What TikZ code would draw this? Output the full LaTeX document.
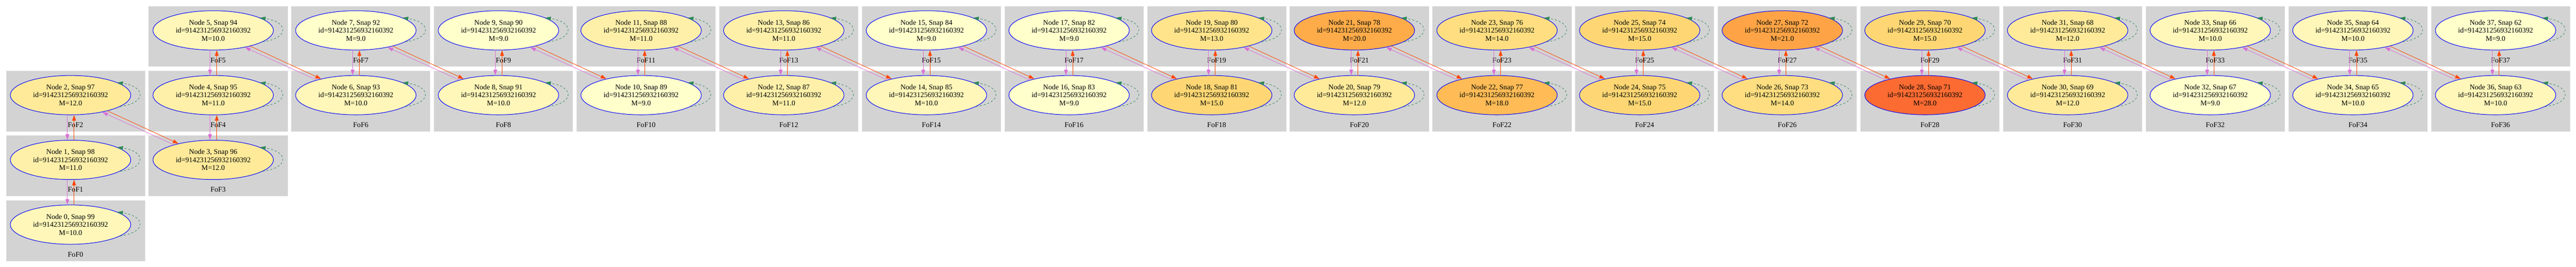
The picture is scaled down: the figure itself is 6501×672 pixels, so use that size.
\documentclass[tikz,border=0pt]{standalone}
\usepackage{fontspec}
\setmainfont{Liberation Serif}
\usetikzlibrary{shapes.geometric,arrows.meta}

\definecolor{boxgray}{HTML}{D3D3D3}
\definecolor{boxedge}{HTML}{DDDDDD}
\definecolor{fofpink}{HTML}{DA70D6}
\definecolor{fofred}{HTML}{FF4500}
\definecolor{loopgreen}{HTML}{2E8B57}
\definecolor{mass9}{HTML}{FFFFCC}
\definecolor{mass10}{HTML}{FFF7B9}
\definecolor{mass11}{HTML}{FFF0A9}
\definecolor{mass12}{HTML}{FFEA9A}
\definecolor{mass13}{HTML}{FFE48C}
\definecolor{mass14}{HTML}{FEDE80}
\definecolor{mass15}{HTML}{FED774}
\definecolor{mass18}{HTML}{FEBB56}
\definecolor{mass20}{HTML}{FEAB49}
\definecolor{mass21}{HTML}{FEA446}
\definecolor{mass28}{HTML}{FC6B32}

\begin{document}
\begin{tikzpicture}[x=1pt,y=-1pt,
    fofbox/.style ={rectangle, fill=boxgray, draw=boxedge, line width=1pt, inner sep=0pt,
                    minimum width=350pt, text height=142pt, text depth=10pt,
                    font=\fontsize{18.3}{20}\selectfont},
    halo/.style ={ellipse, draw=blue, line width=1.3pt, inner sep=0pt,
                  minimum width=304pt, minimum height=99pt, align=center,
                  font=\fontsize{18.3}{20}\selectfont},
    descend/.style ={fofpink, line width=1.1pt, -{Triangle[length=14pt,width=9.5pt]}},
    progen/.style ={fofred, line width=1.1pt, -{Triangle[length=14pt,width=9.5pt]}},
    selfloop/.style ={loopgreen, line width=1.1pt, dash pattern=on 5pt off 5pt,
                      -{Triangle[length=14pt,width=9.5pt]}}]
   \fill[white] (0,0) rectangle (6501,672);
   \useasboundingbox (0,0) rectangle (6501,672);

   % clusters
   \node[fofbox] (b0)  at (190.5,580.5)  {FoF0};
   \node[fofbox] (b1)  at (190.5,417.5)  {FoF1};
   \node[fofbox] (b2)  at (190.5,254.5)  {FoF2};
   \node[fofbox] (b3)  at (550.5,417.5)  {FoF3};
   \node[fofbox] (b4)  at (550.5,254.5)  {FoF4};
   \node[fofbox] (b5)  at (550.5,91.5)   {FoF5};
   \node[fofbox] (b6)  at (910.5,254.5)  {FoF6};
   \node[fofbox] (b7)  at (910.5,91.5)   {FoF7};
   \node[fofbox] (b8)  at (1270.5,254.5) {FoF8};
   \node[fofbox] (b9)  at (1270.5,91.5)  {FoF9};
   \node[fofbox] (b10) at (1630.5,254.5) {FoF10};
   \node[fofbox] (b11) at (1630.5,91.5)  {FoF11};
   \node[fofbox] (b12) at (1990.5,254.5) {FoF12};
   \node[fofbox] (b13) at (1990.5,91.5)  {FoF13};
   \node[fofbox] (b14) at (2350.5,254.5) {FoF14};
   \node[fofbox] (b15) at (2350.5,91.5)  {FoF15};
   \node[fofbox] (b16) at (2710.5,254.5) {FoF16};
   \node[fofbox] (b17) at (2710.5,91.5)  {FoF17};
   \node[fofbox] (b18) at (3070.5,254.5) {FoF18};
   \node[fofbox] (b19) at (3070.5,91.5)  {FoF19};
   \node[fofbox] (b20) at (3430.5,254.5) {FoF20};
   \node[fofbox] (b21) at (3430.5,91.5)  {FoF21};
   \node[fofbox] (b22) at (3790.5,254.5) {FoF22};
   \node[fofbox] (b23) at (3790.5,91.5)  {FoF23};
   \node[fofbox] (b24) at (4150.5,254.5) {FoF24};
   \node[fofbox] (b25) at (4150.5,91.5)  {FoF25};
   \node[fofbox] (b26) at (4510.5,254.5) {FoF26};
   \node[fofbox] (b27) at (4510.5,91.5)  {FoF27};
   \node[fofbox] (b28) at (4870.5,254.5) {FoF28};
   \node[fofbox] (b29) at (4870.5,91.5)  {FoF29};
   \node[fofbox] (b30) at (5230.5,254.5) {FoF30};
   \node[fofbox] (b31) at (5230.5,91.5)  {FoF31};
   \node[fofbox] (b32) at (5590.5,254.5) {FoF32};
   \node[fofbox] (b33) at (5590.5,91.5)  {FoF33};
   \node[fofbox] (b34) at (5950.5,254.5) {FoF34};
   \node[fofbox] (b35) at (5950.5,91.5)  {FoF35};
   \node[fofbox] (b36) at (6310.5,254.5) {FoF36};
   \node[fofbox] (b37) at (6310.5,91.5)  {FoF37};

   % halos
   \node[halo,fill=mass10] (n0)  at (178,565.5)  {Node 0, Snap 99\\id=914231256932160392\\M=10.0};
   \node[halo,fill=mass11] (n1)  at (178,402.5)  {Node 1, Snap 98\\id=914231256932160392\\M=11.0};
   \node[halo,fill=mass12] (n2)  at (178,239.5)  {Node 2, Snap 97\\id=914231256932160392\\M=12.0};
   \node[halo,fill=mass12] (n3)  at (538,402.5)  {Node 3, Snap 96\\id=914231256932160392\\M=12.0};
   \node[halo,fill=mass11] (n4)  at (538,239.5)  {Node 4, Snap 95\\id=914231256932160392\\M=11.0};
   \node[halo,fill=mass10] (n5)  at (538,76.5)   {Node 5, Snap 94\\id=914231256932160392\\M=10.0};
   \node[halo,fill=mass10] (n6)  at (898,239.5)  {Node 6, Snap 93\\id=914231256932160392\\M=10.0};
   \node[halo,fill=mass9]  (n7)  at (898,76.5)   {Node 7, Snap 92\\id=914231256932160392\\M=9.0};
   \node[halo,fill=mass10] (n8)  at (1258,239.5) {Node 8, Snap 91\\id=914231256932160392\\M=10.0};
   \node[halo,fill=mass9]  (n9)  at (1258,76.5)  {Node 9, Snap 90\\id=914231256932160392\\M=9.0};
   \node[halo,fill=mass9]  (n10) at (1618,239.5) {Node 10, Snap 89\\id=914231256932160392\\M=9.0};
   \node[halo,fill=mass11] (n11) at (1618,76.5)  {Node 11, Snap 88\\id=914231256932160392\\M=11.0};
   \node[halo,fill=mass11] (n12) at (1978,239.5) {Node 12, Snap 87\\id=914231256932160392\\M=11.0};
   \node[halo,fill=mass11] (n13) at (1978,76.5)  {Node 13, Snap 86\\id=914231256932160392\\M=11.0};
   \node[halo,fill=mass10] (n14) at (2338,239.5) {Node 14, Snap 85\\id=914231256932160392\\M=10.0};
   \node[halo,fill=mass9]  (n15) at (2338,76.5)  {Node 15, Snap 84\\id=914231256932160392\\M=9.0};
   \node[halo,fill=mass9]  (n16) at (2698,239.5) {Node 16, Snap 83\\id=914231256932160392\\M=9.0};
   \node[halo,fill=mass9]  (n17) at (2698,76.5)  {Node 17, Snap 82\\id=914231256932160392\\M=9.0};
   \node[halo,fill=mass15] (n18) at (3058,239.5) {Node 18, Snap 81\\id=914231256932160392\\M=15.0};
   \node[halo,fill=mass13] (n19) at (3058,76.5)  {Node 19, Snap 80\\id=914231256932160392\\M=13.0};
   \node[halo,fill=mass12] (n20) at (3418,239.5) {Node 20, Snap 79\\id=914231256932160392\\M=12.0};
   \node[halo,fill=mass20] (n21) at (3418,76.5)  {Node 21, Snap 78\\id=914231256932160392\\M=20.0};
   \node[halo,fill=mass18] (n22) at (3778,239.5) {Node 22, Snap 77\\id=914231256932160392\\M=18.0};
   \node[halo,fill=mass14] (n23) at (3778,76.5)  {Node 23, Snap 76\\id=914231256932160392\\M=14.0};
   \node[halo,fill=mass15] (n24) at (4138,239.5) {Node 24, Snap 75\\id=914231256932160392\\M=15.0};
   \node[halo,fill=mass15] (n25) at (4138,76.5)  {Node 25, Snap 74\\id=914231256932160392\\M=15.0};
   \node[halo,fill=mass14] (n26) at (4498,239.5) {Node 26, Snap 73\\id=914231256932160392\\M=14.0};
   \node[halo,fill=mass21] (n27) at (4498,76.5)  {Node 27, Snap 72\\id=914231256932160392\\M=21.0};
   \node[halo,fill=mass28] (n28) at (4858,239.5) {Node 28, Snap 71\\id=914231256932160392\\M=28.0};
   \node[halo,fill=mass15] (n29) at (4858,76.5)  {Node 29, Snap 70\\id=914231256932160392\\M=15.0};
   \node[halo,fill=mass12] (n30) at (5218,239.5) {Node 30, Snap 69\\id=914231256932160392\\M=12.0};
   \node[halo,fill=mass12] (n31) at (5218,76.5)  {Node 31, Snap 68\\id=914231256932160392\\M=12.0};
   \node[halo,fill=mass9]  (n32) at (5578,239.5) {Node 32, Snap 67\\id=914231256932160392\\M=9.0};
   \node[halo,fill=mass10] (n33) at (5578,76.5)  {Node 33, Snap 66\\id=914231256932160392\\M=10.0};
   \node[halo,fill=mass10] (n34) at (5938,239.5) {Node 34, Snap 65\\id=914231256932160392\\M=10.0};
   \node[halo,fill=mass10] (n35) at (5938,76.5)  {Node 35, Snap 64\\id=914231256932160392\\M=10.0};
   \node[halo,fill=mass10] (n36) at (6298,239.5) {Node 36, Snap 63\\id=914231256932160392\\M=10.0};
   \node[halo,fill=mass9]  (n37) at (6298,76.5)  {Node 37, Snap 62\\id=914231256932160392\\M=9.0};

   % vertical links
   \draw[descend] ([xshift=-8pt]n1.south) -- ([xshift=-8pt]n0.north);
   \draw[progen] ([xshift=9pt]n0.north) -- ([xshift=9pt]n1.south);
   \draw[descend] ([xshift=-8pt]n2.south) -- ([xshift=-8pt]n1.north);
   \draw[progen] ([xshift=9pt]n1.north) -- ([xshift=9pt]n2.south);
   \draw[descend] ([xshift=-8pt]n4.south) -- ([xshift=-8pt]n3.north);
   \draw[progen] ([xshift=9pt]n3.north) -- ([xshift=9pt]n4.south);
   \draw[descend] ([xshift=-8pt]n5.south) -- ([xshift=-8pt]n4.north);
   \draw[progen] ([xshift=9pt]n4.north) -- ([xshift=9pt]n5.south);
   \draw[descend] ([xshift=-8pt]n7.south) -- ([xshift=-8pt]n6.north);
   \draw[progen] ([xshift=9pt]n6.north) -- ([xshift=9pt]n7.south);
   \draw[descend] ([xshift=-8pt]n9.south) -- ([xshift=-8pt]n8.north);
   \draw[progen] ([xshift=9pt]n8.north) -- ([xshift=9pt]n9.south);
   \draw[descend] ([xshift=-8pt]n11.south) -- ([xshift=-8pt]n10.north);
   \draw[progen] ([xshift=9pt]n10.north) -- ([xshift=9pt]n11.south);
   \draw[descend] ([xshift=-8pt]n13.south) -- ([xshift=-8pt]n12.north);
   \draw[progen] ([xshift=9pt]n12.north) -- ([xshift=9pt]n13.south);
   \draw[descend] ([xshift=-8pt]n15.south) -- ([xshift=-8pt]n14.north);
   \draw[progen] ([xshift=9pt]n14.north) -- ([xshift=9pt]n15.south);
   \draw[descend] ([xshift=-8pt]n17.south) -- ([xshift=-8pt]n16.north);
   \draw[progen] ([xshift=9pt]n16.north) -- ([xshift=9pt]n17.south);
   \draw[descend] ([xshift=-8pt]n19.south) -- ([xshift=-8pt]n18.north);
   \draw[progen] ([xshift=9pt]n18.north) -- ([xshift=9pt]n19.south);
   \draw[descend] ([xshift=-8pt]n21.south) -- ([xshift=-8pt]n20.north);
   \draw[progen] ([xshift=9pt]n20.north) -- ([xshift=9pt]n21.south);
   \draw[descend] ([xshift=-8pt]n23.south) -- ([xshift=-8pt]n22.north);
   \draw[progen] ([xshift=9pt]n22.north) -- ([xshift=9pt]n23.south);
   \draw[descend] ([xshift=-8pt]n25.south) -- ([xshift=-8pt]n24.north);
   \draw[progen] ([xshift=9pt]n24.north) -- ([xshift=9pt]n25.south);
   \draw[descend] ([xshift=-8pt]n27.south) -- ([xshift=-8pt]n26.north);
   \draw[progen] ([xshift=9pt]n26.north) -- ([xshift=9pt]n27.south);
   \draw[descend] ([xshift=-8pt]n29.south) -- ([xshift=-8pt]n28.north);
   \draw[progen] ([xshift=9pt]n28.north) -- ([xshift=9pt]n29.south);
   \draw[descend] ([xshift=-8pt]n31.south) -- ([xshift=-8pt]n30.north);
   \draw[progen] ([xshift=9pt]n30.north) -- ([xshift=9pt]n31.south);
   \draw[descend] ([xshift=-8pt]n33.south) -- ([xshift=-8pt]n32.north);
   \draw[progen] ([xshift=9pt]n32.north) -- ([xshift=9pt]n33.south);
   \draw[descend] ([xshift=-8pt]n35.south) -- ([xshift=-8pt]n34.north);
   \draw[progen] ([xshift=9pt]n34.north) -- ([xshift=9pt]n35.south);
   \draw[descend] ([xshift=-8pt]n37.south) -- ([xshift=-8pt]n36.north);
   \draw[progen] ([xshift=9pt]n36.north) -- ([xshift=9pt]n37.south);

   % diagonal links
   \draw[progen] (n2.-23.5) -- (n3.155);
   \draw[descend] (n3.159.5) -- (n2.-28.5);
   \draw[progen] (n5.-23.5) -- (n6.155);
   \draw[descend] (n6.159.5) -- (n5.-28.5);
   \draw[progen] (n7.-23.5) -- (n8.155);
   \draw[descend] (n8.159.5) -- (n7.-28.5);
   \draw[progen] (n9.-23.5) -- (n10.155);
   \draw[descend] (n10.159.5) -- (n9.-28.5);
   \draw[progen] (n11.-23.5) -- (n12.155);
   \draw[descend] (n12.159.5) -- (n11.-28.5);
   \draw[progen] (n13.-23.5) -- (n14.155);
   \draw[descend] (n14.159.5) -- (n13.-28.5);
   \draw[progen] (n15.-23.5) -- (n16.155);
   \draw[descend] (n16.159.5) -- (n15.-28.5);
   \draw[progen] (n17.-23.5) -- (n18.155);
   \draw[descend] (n18.159.5) -- (n17.-28.5);
   \draw[progen] (n19.-23.5) -- (n20.155);
   \draw[descend] (n20.159.5) -- (n19.-28.5);
   \draw[progen] (n21.-23.5) -- (n22.155);
   \draw[descend] (n22.159.5) -- (n21.-28.5);
   \draw[progen] (n23.-23.5) -- (n24.155);
   \draw[descend] (n24.159.5) -- (n23.-28.5);
   \draw[progen] (n25.-23.5) -- (n26.155);
   \draw[descend] (n26.159.5) -- (n25.-28.5);
   \draw[progen] (n27.-23.5) -- (n28.155);
   \draw[descend] (n28.159.5) -- (n27.-28.5);
   \draw[progen] (n29.-23.5) -- (n30.155);
   \draw[descend] (n30.159.5) -- (n29.-28.5);
   \draw[progen] (n31.-23.5) -- (n32.155);
   \draw[descend] (n32.159.5) -- (n31.-28.5);
   \draw[progen] (n33.-23.5) -- (n34.155);
   \draw[descend] (n34.159.5) -- (n33.-28.5);
   \draw[progen] (n35.-23.5) -- (n36.155);
   \draw[descend] (n36.159.5) -- (n35.-28.5);

   % self loops
   \draw[selfloop] (n0.-13.5) .. controls +(70,-10) and +(70,10) .. (n0.15);
   \draw[selfloop] (n1.-13.5) .. controls +(70,-10) and +(70,10) .. (n1.15);
   \draw[selfloop] (n2.-13.5) .. controls +(70,-10) and +(70,10) .. (n2.15);
   \draw[selfloop] (n3.-13.5) .. controls +(70,-10) and +(70,10) .. (n3.15);
   \draw[selfloop] (n4.-13.5) .. controls +(70,-10) and +(70,10) .. (n4.15);
   \draw[selfloop] (n5.-13.5) .. controls +(70,-10) and +(70,10) .. (n5.15);
   \draw[selfloop] (n6.-13.5) .. controls +(70,-10) and +(70,10) .. (n6.15);
   \draw[selfloop] (n7.-13.5) .. controls +(70,-10) and +(70,10) .. (n7.15);
   \draw[selfloop] (n8.-13.5) .. controls +(70,-10) and +(70,10) .. (n8.15);
   \draw[selfloop] (n9.-13.5) .. controls +(70,-10) and +(70,10) .. (n9.15);
   \draw[selfloop] (n10.-13.5) .. controls +(70,-10) and +(70,10) .. (n10.15);
   \draw[selfloop] (n11.-13.5) .. controls +(70,-10) and +(70,10) .. (n11.15);
   \draw[selfloop] (n12.-13.5) .. controls +(70,-10) and +(70,10) .. (n12.15);
   \draw[selfloop] (n13.-13.5) .. controls +(70,-10) and +(70,10) .. (n13.15);
   \draw[selfloop] (n14.-13.5) .. controls +(70,-10) and +(70,10) .. (n14.15);
   \draw[selfloop] (n15.-13.5) .. controls +(70,-10) and +(70,10) .. (n15.15);
   \draw[selfloop] (n16.-13.5) .. controls +(70,-10) and +(70,10) .. (n16.15);
   \draw[selfloop] (n17.-13.5) .. controls +(70,-10) and +(70,10) .. (n17.15);
   \draw[selfloop] (n18.-13.5) .. controls +(70,-10) and +(70,10) .. (n18.15);
   \draw[selfloop] (n19.-13.5) .. controls +(70,-10) and +(70,10) .. (n19.15);
   \draw[selfloop] (n20.-13.5) .. controls +(70,-10) and +(70,10) .. (n20.15);
   \draw[selfloop] (n21.-13.5) .. controls +(70,-10) and +(70,10) .. (n21.15);
   \draw[selfloop] (n22.-13.5) .. controls +(70,-10) and +(70,10) .. (n22.15);
   \draw[selfloop] (n23.-13.5) .. controls +(70,-10) and +(70,10) .. (n23.15);
   \draw[selfloop] (n24.-13.5) .. controls +(70,-10) and +(70,10) .. (n24.15);
   \draw[selfloop] (n25.-13.5) .. controls +(70,-10) and +(70,10) .. (n25.15);
   \draw[selfloop] (n26.-13.5) .. controls +(70,-10) and +(70,10) .. (n26.15);
   \draw[selfloop] (n27.-13.5) .. controls +(70,-10) and +(70,10) .. (n27.15);
   \draw[selfloop] (n28.-13.5) .. controls +(70,-10) and +(70,10) .. (n28.15);
   \draw[selfloop] (n29.-13.5) .. controls +(70,-10) and +(70,10) .. (n29.15);
   \draw[selfloop] (n30.-13.5) .. controls +(70,-10) and +(70,10) .. (n30.15);
   \draw[selfloop] (n31.-13.5) .. controls +(70,-10) and +(70,10) .. (n31.15);
   \draw[selfloop] (n32.-13.5) .. controls +(70,-10) and +(70,10) .. (n32.15);
   \draw[selfloop] (n33.-13.5) .. controls +(70,-10) and +(70,10) .. (n33.15);
   \draw[selfloop] (n34.-13.5) .. controls +(70,-10) and +(70,10) .. (n34.15);
   \draw[selfloop] (n35.-13.5) .. controls +(70,-10) and +(70,10) .. (n35.15);
   \draw[selfloop] (n36.-13.5) .. controls +(70,-10) and +(70,10) .. (n36.15);
   \draw[selfloop] (n37.-13.5) .. controls +(70,-10) and +(70,10) .. (n37.15);
\end{tikzpicture}
\end{document}
